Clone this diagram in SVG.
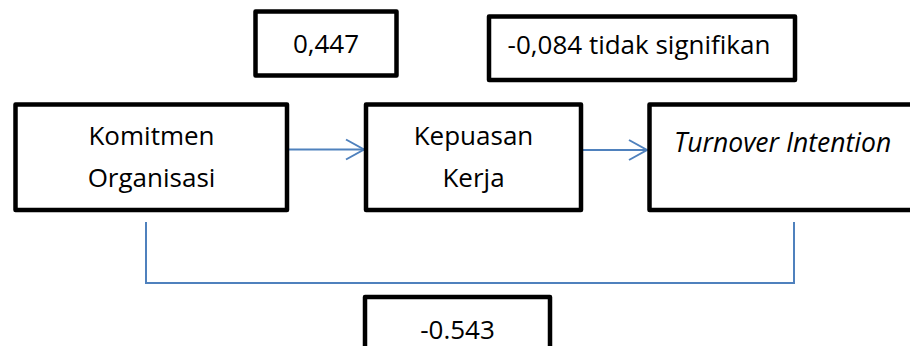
<svg xmlns="http://www.w3.org/2000/svg" width="910" height="346" viewBox="0 0 910 346">
<defs>
<style>
.box{fill:#fff;stroke:#000;stroke-width:4.5;stroke-linejoin:round}
.t{font-family:"Open Sans","Liberation Sans",sans-serif;font-size:26px;fill:#000;text-anchor:middle}
.ti{font-family:"Open Sans","Liberation Sans",sans-serif;font-size:26.5px;font-style:italic;fill:#000}
.c{fill:none;stroke:#4F81BD;stroke-width:2}
</style>
</defs>
<rect width="910" height="346" fill="#fff"/>
<g id="connectors">
<line class="c" x1="289" y1="149.5" x2="364" y2="149.5"/>
<polyline class="c" points="346,139.5 364,149.5 346,159.5"/>
<line class="c" x1="583" y1="150" x2="647" y2="150"/>
<polyline class="c" points="629,140 647,150 629,160"/>
<path class="c" d="M146,222 V283 H794 V222"/>
</g>
<g id="label-0447">
<rect class="box" x="255.5" y="11.5" width="141" height="64"/>
<text class="t" x="326" y="53">0,447</text>
</g>
<g id="label-0084">
<rect class="box" x="489" y="16.5" width="306" height="63.5"/>
<text class="t" x="639" y="54">-0,084 tidak signifikan</text>
</g>
<g id="komitmen">
<rect class="box" x="15.5" y="104.5" width="271.5" height="105.5"/>
<text class="t" x="151.5" y="145">Komitmen</text>
<text class="t" x="151.5" y="187">Organisasi</text>
</g>
<g id="kepuasan">
<rect class="box" x="366" y="104.5" width="215" height="105.5"/>
<text class="t" x="473.5" y="145">Kepuasan</text>
<text class="t" x="473.5" y="187">Kerja</text>
</g>
<g id="turnover">
<rect class="box" x="649.5" y="104.5" width="280" height="105.5"/>
<text class="ti" x="674" y="152">Turnover Intention</text>
</g>
<g id="label-0543">
<rect class="box" x="365" y="297" width="185" height="70"/>
<text class="t" x="457.5" y="339">-0.543</text>
</g>
</svg>
